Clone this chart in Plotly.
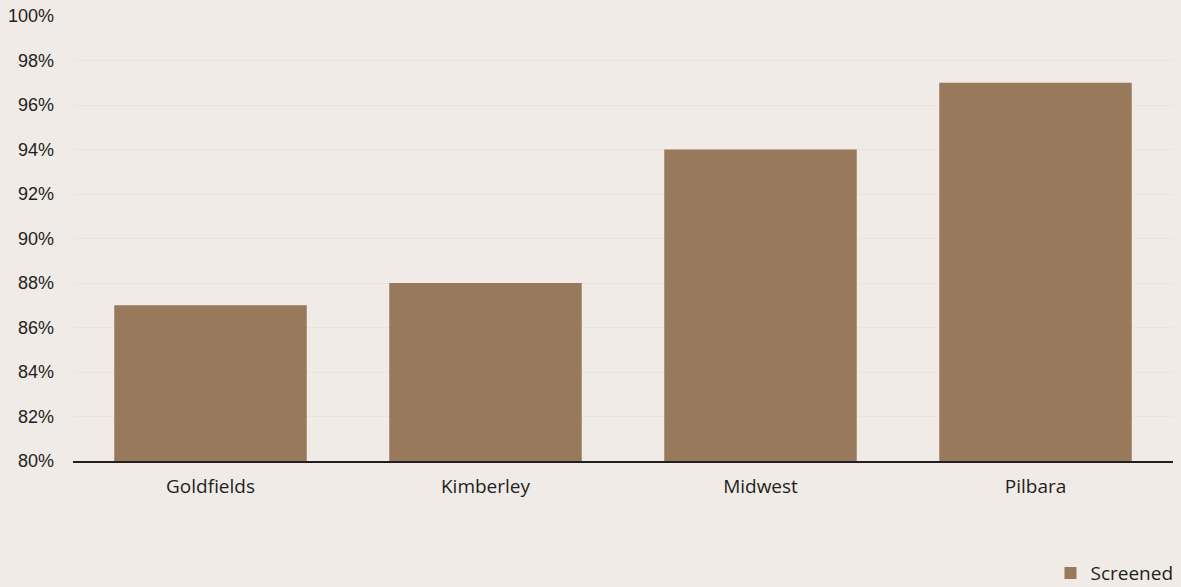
import plotly.graph_objects as go

categories = ["Goldfields", "Kimberley", "Midwest", "Pilbara"]
screened = [87, 88, 94, 97]
y_ticks = [80, 82, 84, 86, 88, 90, 92, 94, 96, 98, 100]
y_tick_labels = [f"{v}%" for v in y_ticks]

fig = go.Figure()
fig.add_trace(go.Bar(
    x=categories, y=screened, name="Screened",
    marker=dict(color="#98795b", line=dict(width=0)),
    showlegend=True,
))

fig.update_layout(
    width=1181, height=587,
    margin=dict(l=73, r=8, t=16, b=126, autoexpand=False),
    paper_bgcolor="#f0ebe7", plot_bgcolor="#f0ebe7",
    bargap=0.3,
    showlegend=True,
    legend=dict(orientation="h", x=1.005, xanchor="right", y=-0.252, yanchor="middle",
                font=dict(family="Open Sans", size=19, color="#231f20"),
                bgcolor="rgba(0,0,0,0)"),
    xaxis=dict(showgrid=False, showline=True, linecolor="#231f20", linewidth=1.5,
               tickfont=dict(family="Open Sans", size=19, color="#231f20"),
               ticks="", ticklabelstandoff=7, automargin=False),
    yaxis=dict(range=[80, 100], tickvals=y_ticks, ticktext=y_tick_labels,
               showgrid=True, gridcolor="#e6e4e4", gridwidth=1,
               zeroline=False, showline=False, ticks="", automargin=False,
               tickfont=dict(family="Liberation Sans", size=18, color="#231f20"),
               ticklabelstandoff=18),
)

fig.write_html("out.html")
